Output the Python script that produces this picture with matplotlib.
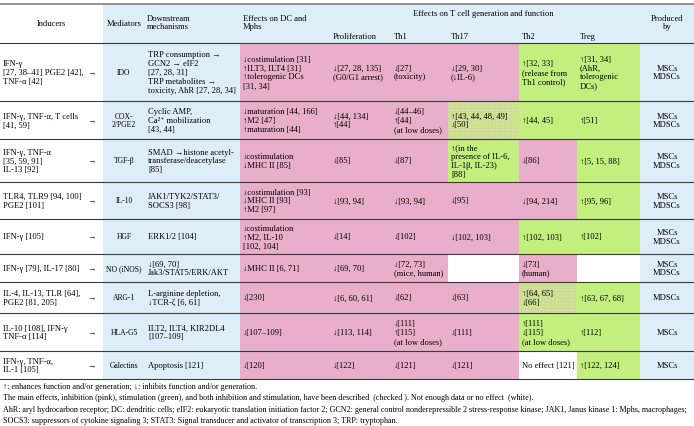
import matplotlib

matplotlib.use("Agg")
import matplotlib.pyplot as plt
from matplotlib.patches import Rectangle

plt.rcParams["font.family"] = ["Liberation Serif", "DejaVu Serif"]
plt.rcParams["hatch.linewidth"] = 0.4

# table content, one list per column
inducers = [
    "IFN-γ\n[27, 38–41] PGE2 [42],\nTNF-α [42]",
    "IFN-γ, TNF-α, T cells\n[41, 59]",
    "IFN-γ, TNF-α\n[35, 59, 91]\nIL-13 [92]",
    "TLR4, TLR9 [94, 100]\nPGE2 [101]",
    "IFN-γ [105]",
    "IFN-γ [79], IL-17 [80]",
    "IL-4, IL-13, TLR [64],\nPGE2 [81, 205]",
    "IL-10 [108], IFN-γ\nTNF-α [114]",
    "IFN-γ, TNF-α,\nIL-1 [105]",
]
mediators = ["IDO", "COX-\n2/PGE2", "TGF-β", "IL-10", "HGF", "NO (iNOS)",
             "ARG-1", "HLA-G5", "Galectins"]
mechanisms = [
    "TRP consumption →\nGCN2 → eIF2\n[27, 28, 31]\nTRP metabolites →\ntoxicity, AhR [27, 28, 34]",
    "Cyclic AMP,\nCa²⁺ mobilization\n[43, 44]",
    "SMAD →histone acetyl-\ntransferase/deacetylase\n[85]",
    "JAK1/TYK2/STAT3/\nSOCS3 [98]",
    "ERK1/2 [104]",
    "↓[69, 70]\nJak3/STAT5/ERK/AKT",
    "L-arginine depletion,\n↓TCR-ζ [6, 61]",
    "ILT2, ILT4, KIR2DL4\n[107–109]",
    "Apoptosis [121]",
]
dc_effects = [
    "↓costimulation [31]\n↑ILT3, ILT4 [31]\n↑tolerogenic DCs\n[31, 34]",
    "↓maturation [44, 166]\n↑M2 [47]\n↑maturation [44]",
    "↓costimulation\n↓MHC II [85]",
    "↓costimulation [93]\n↓MHC II [93]\n↑M2 [97]",
    "↓costimulation\n↑M2, IL-10\n[102, 104]",
    "↓MHC II [6, 71]",
    "↓[230]",
    "↓[107–109]",
    "↓[120]",
]
proliferation = ["↓[27, 28, 135]\n(G0/G1 arrest)", "↓[44, 134]\n↑[44]", "↓[85]",
                 "↓[93, 94]", "↓[14]", "↓[69, 70]", "↓[6, 60, 61]",
                 "↓[113, 114]", "↓[122]"]
th1 = ["↓[27]\n(toxicity)", "↓[44–46]\n↑[44]\n(at low doses)", "↓[87]",
       "↓[93, 94]", "↓[102]", "↓[72, 73]\n(mice, human)", "↓[62]",
       "↓[111]\n↑[115]\n(at low doses)", "↓[121]"]
th17 = ["↓[29, 30]\n(↓IL-6)", "↑[43, 44, 48, 49]\n↓[50]",
        "↑(in the\npresence of IL-6,\nIL-1β, IL-23)\n[88]", "↓[95]",
        "↓[102, 103]", "", "↓[63]", "↓[111]", "↓[121]"]
th2 = ["↑[32, 33]\n(release from\nTh1 control)", "↑[44, 45]", "↓[86]",
       "↓[94, 214]", "↑[102, 103]", "↓[73]\n(human)", "↑[64, 65]\n↓[66]",
       "↑[111]\n↓[115]\n(at low doses)", "No effect [121]"]
treg = ["↑[31, 34]\n(AhR,\ntolerogenic\nDCs)", "↑[51]", "↑[5, 15, 88]",
        "↑[95, 96]", "↑[102]", "", "↑[63, 67, 68]", "↑[112]", "↑[122, 124]"]
produced_by = ["MSCs\nMDSCs"] * 6 + ["MDSCs", "MSCs", "MSCs"]

# effect codes per row for DC, Prolif, Th1, Th17, Th2, Treg
# p = inhibition, g = stimulation, c = both (checked), w = none
effects = ["ppppgg", "pppcgg", "pppgpg", "pppppg", "ppppgg",
           "pppwpw", "ppppcg", "ppppgg", "ppppwg"]

sub_headers = ["Proliferation", "Th1", "Th17", "Th2", "Treg"]
footnotes = [
    "↑: enhances function and/or generation; ↓: inhibits function and/or generation.",
    "The main effects, inhibition (pink), stimulation (green), and both inhibition and "
    "stimulation, have been described  (checked ). Not enough data or no effect  (white).",
    "AhR: aryl hydrocarbon receptor; DC: dendritic cells; eIF2: eukaryotic translation "
    "initiation factor 2; GCN2: general control nonderepressible 2 stress-response kinase; "
    "JAK1, Janus kinase 1: Mphs, macrophages;",
    "SOCS3: suppressors of cytokine signaling 3; STAT3: Signal transducer and activator of "
    "transcription 3; TRP: tryptophan.",
]

# layout (pixels)
col_edges = [0, 103, 145, 240, 330, 391, 448, 519, 577, 640, 694]
row_edges = [44, 102, 140, 183, 220, 255, 283, 314, 352, 380]
BLUE = "#DDEEF9"
PINK = "#E9AECB"
GREEN = "#C3EF7E"
HATCH = "#E6BFC4"
FS = 6.1

fig = plt.figure(figsize=(6.94, 4.27), dpi=100)
ax = fig.add_axes([0, 0, 1, 1])
ax.set_xlim(0, 694)
ax.set_ylim(427, 0)
ax.axis("off")

# backgrounds
ax.add_patch(Rectangle((col_edges[1], 5), 694 - col_edges[1], row_edges[0] - 5,
                       facecolor=BLUE, lw=0))
for i in range(len(inducers)):
    y0, y1 = row_edges[i], row_edges[i + 1]
    ax.add_patch(Rectangle((col_edges[1], y0), col_edges[3] - col_edges[1], y1 - y0,
                           facecolor=BLUE, lw=0))
    ax.add_patch(Rectangle((col_edges[9], y0), col_edges[10] - col_edges[9], y1 - y0,
                           facecolor=BLUE, lw=0))
    for j, code in enumerate(effects[i]):
        x0, x1 = col_edges[3 + j], col_edges[4 + j]
        if code == "w":
            continue
        color = {"p": PINK, "g": GREEN, "c": GREEN}[code]
        ax.add_patch(Rectangle((x0, y0), x1 - x0, y1 - y0, facecolor=color, lw=0))
        if code == "c":
            ax.add_patch(Rectangle((x0, y0), x1 - x0, y1 - y0, facecolor="none",
                                   edgecolor=HATCH, hatch="+++++", lw=0))

# rules
ax.plot([0, 694], [5, 5], color="#8a8a8a", lw=1.3)
for y in row_edges:
    ax.plot([0, 694], [y, y], color="#3a3a3a", lw=0.8)

# header
ax.text(51, 24, "Inducers", ha="center", va="center", fontsize=FS)
ax.text(124, 24, "Mediators", ha="center", va="center", fontsize=FS)
ax.text(147, 23, "Downstream\nmechanisms", ha="left", va="center", fontsize=FS,
        linespacing=1.15)
ax.text(243, 23, "Effects on DC and\nMphs", ha="left", va="center", fontsize=FS,
        linespacing=1.15)
ax.text(483, 14, "Effects on T cell generation and function", ha="center",
        va="center", fontsize=FS)
for j, h in enumerate(sub_headers):
    ax.text(col_edges[4 + j] + 3, 37, h, ha="left", va="center", fontsize=FS)
ax.text(667, 23, "Produced\nby", ha="center", va="center", fontsize=FS,
        linespacing=1.15)

# body
body_cols = [mechanisms, dc_effects, proliferation, th1, th17, th2, treg]
for i in range(len(inducers)):
    yc = (row_edges[i] + row_edges[i + 1]) / 2
    ax.text(3, yc, inducers[i], ha="left", va="center", fontsize=FS, linespacing=1.15)
    ax.text(92, yc, "→", ha="center", va="center", fontsize=FS)
    ax.text(124, yc, mediators[i], ha="center", va="center", fontsize=FS - 0.6,
            linespacing=1.15)
    for k, col in enumerate(body_cols):
        ax.text(col_edges[2 + k] + 3, yc, col[i], ha="left", va="center", fontsize=FS,
                linespacing=1.15)
    ax.text(667, yc, produced_by[i], ha="center", va="center", fontsize=FS,
            linespacing=1.15)

for n, line in enumerate(footnotes):
    ax.text(3, 387 + n * 11.3, line, ha="left", va="center", fontsize=5.85)

fig.savefig("out.png", dpi=100)
